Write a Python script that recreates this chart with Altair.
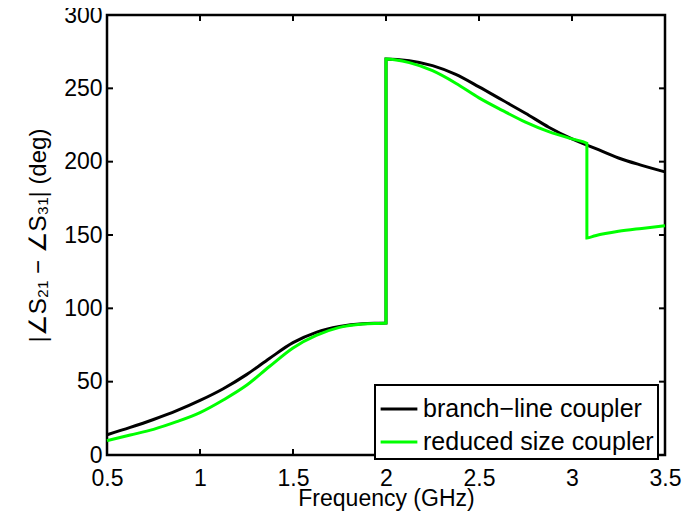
import altair as alt
import pandas as pd

# ---- data ----
freq_lo = [0.5, 0.625, 0.75, 0.875, 1.0, 1.125, 1.25, 1.375, 1.5, 1.625, 1.75, 1.875, 2.0]
branch_lo = [13.8, 18.8, 24.2, 30.2, 37.2, 45.2, 54.8, 66.0, 76.6, 83.6, 87.6, 89.5, 90.0]
reduced_lo = [9.8, 13.6, 17.5, 22.7, 28.9, 37.5, 47.5, 60.5, 73.0, 81.5, 87.0, 89.3, 90.0]

freq_hi_branch = [2.0, 2.125, 2.25, 2.375, 2.5, 2.625, 2.75, 2.875, 3.0, 3.125, 3.25, 3.375, 3.5]
branch_hi = [270.0, 268.8, 265.5, 259.5, 251.0, 242.0, 233.0, 223.5, 215.5, 209.0, 202.5, 197.5, 193.0]

freq_hi_reduced = [2.0, 2.125, 2.25, 2.375, 2.5, 2.625, 2.75, 2.875, 3.0, 3.08, 3.08, 3.125, 3.25, 3.375, 3.5]
reduced_hi = [270.0, 267.5, 262.0, 253.5, 243.5, 235.0, 227.0, 220.5, 215.5, 212.5, 148.0, 149.5, 152.5, 154.5, 156.3]

series_names = ["branch\u2212line coupler", "reduced size coupler"]
series_colors = ["#000000", "#00ff00"]

x_ticks = [0.5, 1.0, 1.5, 2.0, 2.5, 3.0, 3.5]
y_ticks = [0, 50, 100, 150, 200, 250, 300]

# ---- tables ----
def build(name, fl, vl, fh, vh):
    f = fl + fh
    v = vl + vh
    return pd.DataFrame({"freq": f, "phase": v, "series": name, "idx": list(range(len(f)))})

df_b = build(series_names[0], freq_lo, branch_lo, freq_hi_branch, branch_hi)
df_r = build(series_names[1], freq_lo, reduced_lo, freq_hi_reduced, reduced_hi)

W, H = 558, 440
FONT = "Liberation Sans"

xscale = alt.Scale(domain=[0.5, 3.5], nice=False, zero=False)
yscale = alt.Scale(domain=[0, 300], nice=False)
color = alt.Color(
    "series:N",
    scale=alt.Scale(domain=series_names, range=series_colors),
    sort=series_names,
    legend=alt.Legend(
        title=None,
        orient="none",
        legendX=268,
        legendY=370,
        padding=4,
        rowPadding=0,
        symbolType="stroke",
        symbolSize=1350,
        symbolStrokeWidth=3,
        labelFont=FONT,
        labelFontSize=25,
        labelColor="black",
        labelLimit=400,
        labelOffset=4,
        strokeColor="black",
        fillColor="white",
    ),
)

xenc = alt.X(
    "freq:Q",
    scale=xscale,
    axis=alt.Axis(values=x_ticks, format="~g", title="Frequency (GHz)", labelPadding=12,
                  titlePadding=-3, titleFontSize=23, labelFlush=False, labelOverlap=False),
)
yenc = alt.Y(
    "phase:Q",
    scale=yscale,
    axis=alt.Axis(values=y_ticks, title="|\u2220S\u2082\u2081 \u2212 \u2220S\u2083\u2081| (deg)", labelPadding=5,
                  titlePadding=13, labelFlush=False, labelOverlap=False),
)

line_b = alt.Chart(df_b).mark_line(strokeWidth=3, interpolate="monotone").encode(
    x=xenc, y=yenc, color=color, order="idx:Q"
)
line_r = alt.Chart(df_r).mark_line(strokeWidth=3, interpolate="monotone").encode(
    x=alt.X("freq:Q", scale=xscale), y=alt.Y("phase:Q", scale=yscale), color=color, order="idx:Q"
)

xt = pd.DataFrame({"t": x_ticks})
yt = pd.DataFrame({"t": y_ticks})
TL = 6
xt_bottom = alt.Chart(xt).mark_rule(color="black", strokeWidth=2).encode(
    x=alt.X("t:Q", scale=xscale), y=alt.value(H), y2=alt.value(H - TL)
)
xt_top = alt.Chart(xt).mark_rule(color="black", strokeWidth=2).encode(
    x=alt.X("t:Q", scale=xscale), y=alt.value(0), y2=alt.value(TL)
)
yt_left = alt.Chart(yt).mark_rule(color="black", strokeWidth=2).encode(
    y=alt.Y("t:Q", scale=yscale), x=alt.value(0), x2=alt.value(TL)
)
yt_right = alt.Chart(yt).mark_rule(color="black", strokeWidth=2).encode(
    y=alt.Y("t:Q", scale=yscale), x=alt.value(W), x2=alt.value(W - TL)
)

chart = (
    alt.layer(xt_bottom, xt_top, yt_left, yt_right, line_b, line_r)
    .properties(
        width=W,
        height=H,
        autosize=alt.AutoSizeParams(type="none"),
        padding={"left": 99, "top": 7, "right": 24, "bottom": 56},
        background="white",
    )
    .configure_view(stroke="black", strokeWidth=2.5)
    .configure_axis(
        labelFont=FONT,
        labelFontSize=23,
        labelColor="black",
        titleFont=FONT,
        titleFontSize=24,
        titleFontWeight="normal",
        titleColor="black",
        ticks=False,
        domain=False,
        grid=False,
    )
    .configure_legend(strokeWidth=2)
)

chart.save("out.html", embed_options={"renderer": "svg", "actions": False})
